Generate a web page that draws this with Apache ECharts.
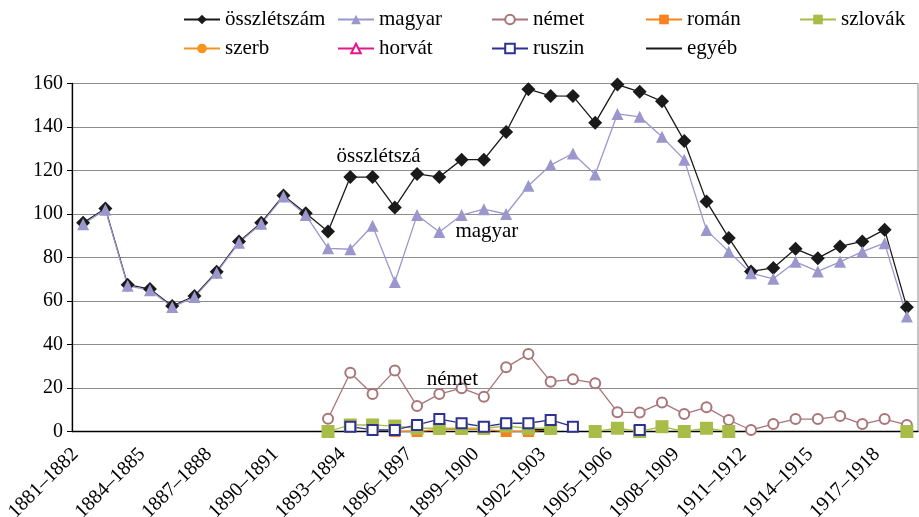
<!DOCTYPE html>
<html>
<head>
<meta charset="utf-8">
<script src="https://cdn.jsdelivr.net/npm/echarts@6/dist/echarts.min.js"></script>
<style>
  html, body { margin: 0; padding: 0; background: #fff; }
  #chart { width: 919px; height: 517px; }
</style>
</head>
<body>
<div id="chart"></div>
<script>
const years = [];
for (let y = 1881; y <= 1918; y++) years.push(y + '–' + (y + 1));

const osszletszam = [96, 102.5, 67.5, 65.5, 57.7, 62.3, 73.5, 87.3, 96, 108.5, 100.3, 92, 117, 117, 103, 118.4, 117, 125, 125, 137.7,
  157.4, 154.3, 154.2, 141.9, 159.5, 156.2, 151.8, 133.6, 105.8, 89, 73.6, 75.2, 84, 79.7, 85.1, 87.4, 92.8, 57.1];
const magyar = [95.3, 102, 67, 65, 57.2, 61.8, 73, 86.8, 95.5, 108, 99.5, 84.2, 83.8, 94.6, 68.7, 99.5, 91.7, 99.5, 102.2, 100,
  113, 122.5, 127.8, 118.2, 146, 144.7, 135.5, 125, 92.6, 82.7, 72.8, 70.2, 78, 73.6, 78, 82.7, 86.6, 52.9];
const nemet = [null, null, null, null, null, null, null, null, null, null, null, 5.9, 27, 17.2, 28, 11.7, 17.2, 19.9, 16, 29.5,
  35.6, 22.9, 24, 22.2, 8.9, 8.7, 13.3, 8.1, 11.1, 5.3, 0.7, 3.4, 5.7, 5.7, 7.1, 3.4, 5.7, 3];
const roman = [null, null, null, null, null, null, null, null, null, null, null, null, null, null, 0, 0, 1, 1, 1, 0,
  0, 1, null, null, null, null, null, null, null, null, null, null, null, null, null, null, null, null];
const szlovak = [null, null, null, null, null, null, null, null, null, null, null, 0, 3, 3, 2.5, 1.5, 1.5, 1.5, 1.5, 2.5,
  1.5, 1.5, null, 0, 1.5, 0, 2.2, 0, 1.5, 0, null, null, null, null, null, null, null, 0];
const szerb = years.map(() => null);
const horvat = years.map(() => null);
const ruszin = [null, null, null, null, null, null, null, null, null, null, null, null, 2.2, 0.7, 0.7, 3, 5.7, 3.8, 2.2, 3.8,
  3.8, 5.3, 2.2, null, null, 0.7, null, null, null, null, null, null, null, null, null, null, null, null];
const egyeb = [null, null, null, null, null, null, null, null, null, null, null, null, null, null, null, null, null, null, null, null,
  0.8, 0.8, null, null, null, null, null, null, null, null, null, null, null, null, null, null, null, null];

// legend columns, as in the original (two rows)
const legendCols = [
  ['összlétszám', 'szerb'],
  ['magyar', 'horvát'],
  ['német', 'ruszin'],
  ['román', 'egyéb'],
  ['szlovák']
];

const FONT = 'Liberation Serif';

function withLabel(arr, idx, text, pos, offset) {
  return arr.map((v, i) => i !== idx ? v : {
    value: v,
    label: { show: true, formatter: text, position: pos, offset: offset, distance: 5,
      fontFamily: FONT, fontSize: 21, color: '#000' }
  });
}

function line(name, data, color, symbol, size) {
  return {
    name: name, type: 'line', data: data, symbol: symbol, symbolSize: size,
    showSymbol: symbol !== 'none', connectNulls: false, animation: false,
    lineStyle: { color: color, width: 1.3 }, itemStyle: { color: color }
  };
}

const chart = echarts.init(document.getElementById('chart'));

const legends = legendCols.map((names, c) => ({
  orient: 'vertical', left: 178 + c * 154, top: 4, itemGap: 8, itemWidth: 36, itemHeight: 12,
  textStyle: { fontFamily: FONT, fontSize: 21, color: '#000' },
  data: names.map(n => n === 'egyéb' ? { name: n, itemStyle: { opacity: 0 } } : n)
}));

chart.setOption({
  animation: false,
  legend: legends,
  grid: { left: 72, right: 1, top: 83.5, height: 348, outerBoundsMode: 'none',
    show: true, borderColor: '#8c8c8c', borderWidth: 1 },
  xAxis: {
    type: 'category', data: years, boundaryGap: true,
    axisLine: { lineStyle: { color: '#000', width: 1.3 } },
    axisTick: { interval: 0, length: 5, lineStyle: { color: '#000' } },
    axisLabel: { interval: 2, rotate: 45, margin: 12, padding: [0, 11, 0, 0],
      fontFamily: FONT, fontSize: 20, color: '#000' }
  },
  yAxis: {
    type: 'value', min: 0, max: 160, interval: 20,
    axisLine: { show: true, lineStyle: { color: '#000', width: 1.3 } },
    axisTick: { show: true, length: 5, lineStyle: { color: '#000' } },
    axisLabel: { margin: 9, fontFamily: FONT, fontSize: 20, color: '#000' },
    splitLine: { lineStyle: { color: '#8c8c8c', width: 1 } }
  },
  series: [
    line('összlétszám', withLabel(osszletszam, 13, 'összlétszá', 'top', [6, 2]), '#1a1a1a', 'diamond', 14),
    line('magyar', withLabel(magyar, 18, 'magyar', 'bottom', [3, 1]), '#9b97cc', 'triangle', 12),
    line('német', withLabel(nemet, 16, 'német', 'top', [13, 7]), '#a87579', 'emptyCircle', 10),
    line('román', roman, '#f5821f', 'rect', 11),
    line('szlovák', szlovak, '#a8bd48', 'rect', 13),
    line('szerb', szerb, '#f7941d', 'circle', 10),
    line('horvát', horvat, '#e6168a', 'emptyTriangle', 11),
    line('ruszin', ruszin, '#2e3192', 'emptyRect', 10),
    line('egyéb', egyeb, '#1a1a1a', 'none', 0)
  ]
});
</script>
</body>
</html>
